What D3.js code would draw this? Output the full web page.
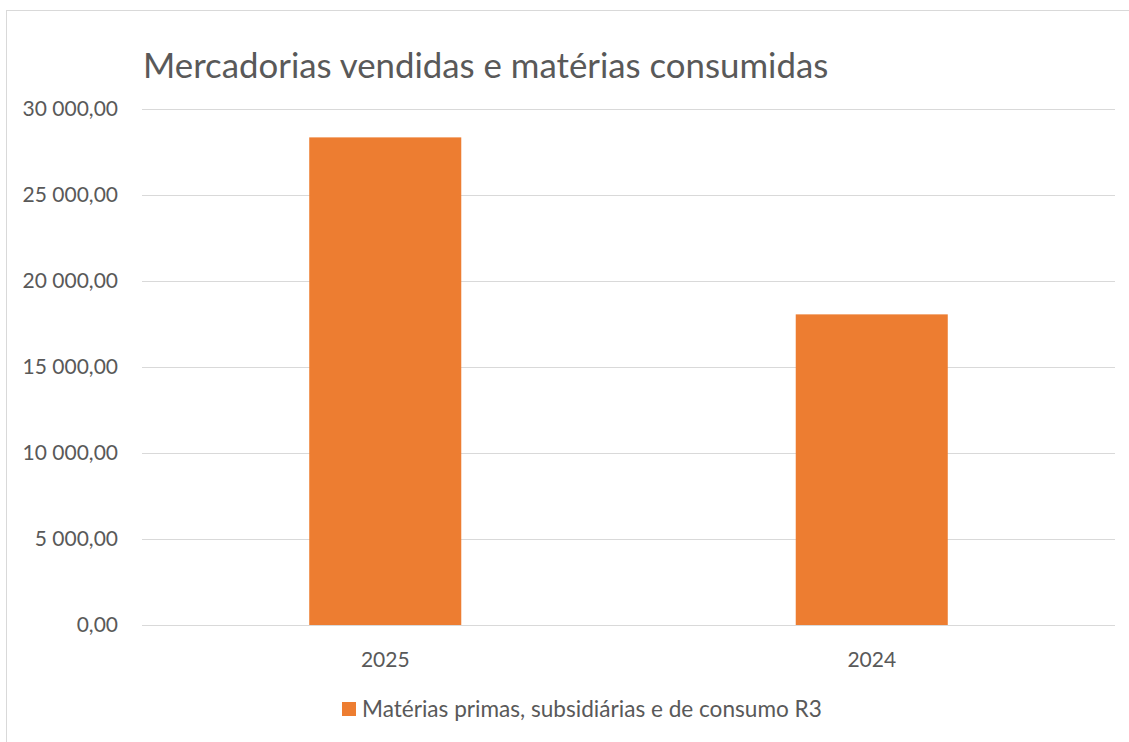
<!DOCTYPE html>
<html><head><meta charset="utf-8">
<script src="https://cdn.jsdelivr.net/npm/d3@7"></script>
<style>html,body{margin:0;padding:0;background:#fff;}svg{display:block;}</style>
</head><body>
<svg id="c" width="1129" height="742"></svg>
<script>
const categories = ["2025", "2024"];
const values = [28350, 18060];
const yTicks = [0, 5000, 10000, 15000, 20000, 25000, 30000];
const seriesName = "Matérias primas, subsidiárias e de consumo R3";
const title = "Mercadorias vendidas e matérias consumidas";

const font = "Lato, 'Open Sans', sans-serif";
const svg = d3.select("#c");
const W = 1129, H = 742;
const m = {left: 142, right: 1115, top: 109, bottom: 625};

svg.append("rect").attr("x", 6.5).attr("y", 10.5).attr("width", W + 10).attr("height", H + 10)
  .attr("fill", "#fff").attr("stroke", "#d9d9d9").attr("stroke-width", 1);

const x = d3.scaleBand().domain(categories).range([m.left, m.right])
  .paddingInner(0.6875).paddingOuter(0.34375);
const y = d3.scaleLinear().domain([0, 30000]).range([m.bottom, m.top]);

const fmt = v => {
  const s = d3.format(",.2f")(v);
  return s.replace(/,/g, " ").replace(".", ",");
};

// gridlines
svg.append("g").selectAll("line").data(yTicks).join("line")
  .attr("x1", m.left).attr("x2", m.right)
  .attr("y1", d => Math.round(y(d)) + 0.5).attr("y2", d => Math.round(y(d)) + 0.5)
  .attr("stroke", "#d9d9d9").attr("stroke-width", 1);

// y labels
svg.append("g").selectAll("text").data(yTicks).join("text")
  .attr("x", 118).attr("y", d => y(d)).attr("dy", "0.35em")
  .attr("text-anchor", "end").attr("fill", "#595959")
  .style("font-family", font).style("font-size", "21px")
  .text(fmt);

// bars
svg.append("g").selectAll("rect").data(values).join("rect")
  .attr("x", (d, i) => x(categories[i])).attr("width", x.bandwidth())
  .attr("y", d => y(d)).attr("height", d => y(0) - y(d))
  .attr("fill", "#ed7d31");

// x labels
svg.append("g").selectAll("text").data(categories).join("text")
  .attr("x", d => x(d) + x.bandwidth() / 2).attr("y", 667)
  .attr("text-anchor", "middle").attr("fill", "#595959")
  .style("font-family", font).style("font-size", "21px")
  .text(d => d);

// title
svg.append("text").attr("x", 143).attr("y", 78)
  .attr("fill", "#595959").style("font-family", font).style("font-size", "34.8px")
  .text(title);

// legend
svg.append("rect").attr("x", 342).attr("y", 702).attr("width", 14).attr("height", 14).attr("fill", "#ed7d31");
svg.append("text").attr("x", 362).attr("y", 717).attr("fill", "#595959")
  .style("font-family", font).style("font-size", "22.6px").text(seriesName);
</script>
</body></html>
